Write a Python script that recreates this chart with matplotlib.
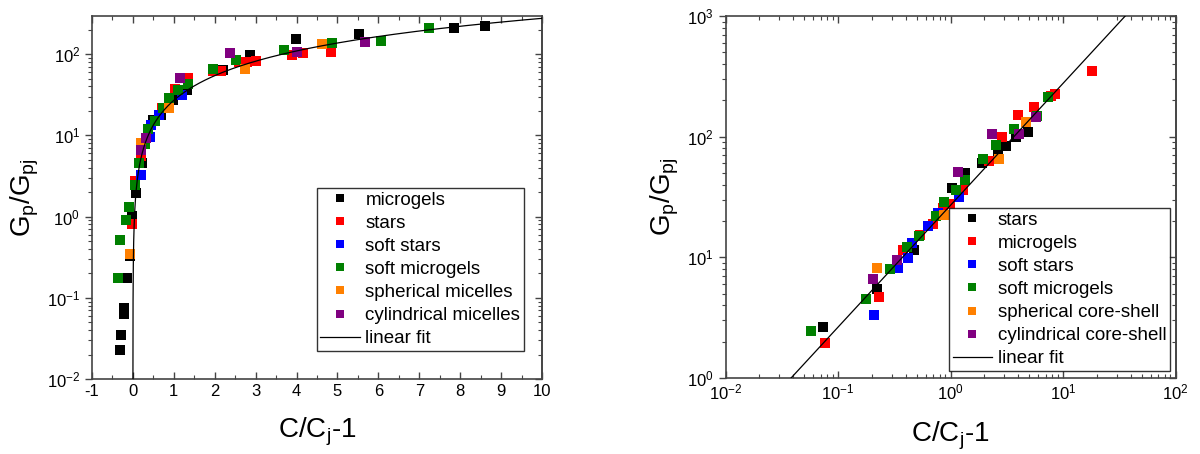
import matplotlib
matplotlib.use("Agg")
import matplotlib.pyplot as plt
from matplotlib.ticker import MultipleLocator, LogLocator
import numpy as np

plt.rcParams['font.family'] = ['Liberation Sans', 'DejaVu Sans']
plt.rcParams['mathtext.fontset'] = 'custom'
plt.rcParams['mathtext.rm'] = 'Liberation Sans'
plt.rcParams['mathtext.it'] = 'Liberation Sans'
plt.rcParams['axes.unicode_minus'] = False

colors = ['#000000', '#ff0000', '#0000ff', '#008000', '#ff8000', '#800080']

# left panel: linear x
left_labels = ['microgels', 'stars', 'soft stars', 'soft microgels',
               'spherical micelles', 'cylindrical micelles']
left_x = [
    [3.99, 2.85, 5.53, 7.85, 8.61, 2.2, 1.31, 0.99, 0.69, 0.50, 0.23, 0.08, -0.02,
     -0.07, -0.15, -0.21, -0.23, -0.28, -0.32],
    [2.6, 2.8, 3.0, 3.88, 4.15, 4.84, 1.95, 2.15, 1.34, 1.03, 0.70, 0.20, 0.04, -0.03],
    [1.21, 0.64, 0.44, 0.42, 0.20],
    [2.52, 3.70, 4.87, 6.06, 7.24, 1.95, 1.34, 1.11, 0.88, 0.74, 0.54, 0.38, 0.30,
     0.16, 0.04, -0.09, -0.18, -0.32, -0.36],
    [2.74, 4.61, 0.88, 0.19, -0.07],
    [2.37, 4.0, 5.67, 1.15, 0.32, 0.19],
]
left_y = [
    [153, 99, 177, 211, 224, 64, 36, 27.6, 18, 15.3, 4.6, 1.96, 1.03,
     0.33, 0.173, 0.074, 0.063, 0.035, 0.0225],
    [80, 81, 82, 97, 104, 107, 62, 62, 51, 37, 22, 5.55, 2.73, 0.81],
    [31, 18, 13.3, 9.5, 3.27],
    [84, 114, 136, 146, 211, 65, 42.6, 36, 29, 22, 14.9, 11.9, 7.9,
     4.6, 2.46, 1.30, 0.92, 0.51, 0.175],
    [65, 132, 22, 8.1, 0.35],
    [104, 107, 142, 51.5, 9.3, 6.65],
]

# right panel: log-log
right_labels = ['stars', 'microgels', 'soft stars', 'soft microgels',
                'spherical core-shell', 'cylindrical core-shell']
right_x = [
    [4.85, 3.8, 3.1, 2.66, 1.89, 1.35, 1.04, 0.47, 0.22, 0.074],
    [18.0, 8.5, 7.9, 5.5, 4.0, 2.85, 2.21, 1.30, 0.99, 0.853, 0.695, 0.536, 0.38, 0.23, 0.077],
    [1.2, 0.78, 0.636, 0.452, 0.415, 0.344, 0.21],
    [7.3, 5.9, 3.7, 2.52, 1.96, 1.35, 1.11, 0.875, 0.743, 0.53, 0.407, 0.29, 0.176, 0.058],
    [4.7, 2.72, 0.875, 0.22],
    [5.7, 4.04, 2.36, 1.17, 0.333, 0.203],
]
right_y = [
    [109, 100, 83, 76, 61, 50, 37.8, 11.5, 5.5, 2.67],
    [350, 226, 219, 177, 151, 99, 63, 36, 27.7, 25.5, 18.9, 15.3, 11.4, 4.7, 1.96],
    [31.5, 23.2, 18.2, 13.2, 9.8, 8.2, 3.3],
    [212, 149, 115, 85, 65, 44, 36, 29, 22.2, 15, 12.1, 8.0, 4.5, 2.45],
    [133, 65, 22.5, 8.1],
    [145, 105, 105, 51, 9.5, 6.6],
]

# fit G/Gj = A * (C/Cj - 1)^b
fit_A = 27.0
fit_b = 1.01

fig = plt.figure(figsize=(12, 4.54), dpi=100)
ax1 = fig.add_axes([92 / 1200, 1 - 379 / 454, 450 / 1200, 363 / 454])
ax2 = fig.add_axes([725.5 / 1200, 1 - 378 / 454, 450 / 1200, 362 / 454])

xfit_left = np.logspace(-3.6, 1.05, 400)
xfit_right = np.logspace(-2.2, 2.2, 100)

panels = [(ax1, left_labels, left_x, left_y, xfit_left, (0.96, 0.077)),
          (ax2, right_labels, right_x, right_y, xfit_right, (0.988, 0.019))]

for ax, labels, xs, ys, xfit, anchor in panels:
    for lab, xx, yy, c in zip(labels, xs, ys, colors):
        ax.plot(xx, yy, 's', color=c, markersize=7, markeredgewidth=0, label=lab, zorder=2)
    ax.plot(xfit, fit_A * xfit ** fit_b, '-', color='black', lw=0.9, label='linear fit', zorder=3)
    ax.set_yscale('log')
    for s in ax.spines.values():
        s.set_color('#444444')
        s.set_linewidth(1.2)
    ax.tick_params(axis='x', which='both', direction='in', top=True, labelsize=12,
                   colors='#444444', labelcolor='black')
    ax.tick_params(axis='y', which='both', direction='out', right=False, labelsize=12,
                   colors='#444444', labelcolor='black')
    ax.tick_params(which='major', length=5, width=1)
    ax.tick_params(which='minor', length=3, width=0.8)
    sec = ax.secondary_yaxis('right')
    sec.tick_params(which='both', direction='in', labelright=False, colors='#444444')
    sec.tick_params(which='major', length=5, width=1)
    sec.tick_params(which='minor', length=3, width=0.8)
    sec.yaxis.set_major_locator(LogLocator(base=10))
    sec.yaxis.set_minor_locator(LogLocator(base=10, subs=np.arange(2, 10)))
    sec.spines['right'].set_color('#444444')
    sec.spines['right'].set_linewidth(1.2)
    ax.yaxis.set_major_locator(LogLocator(base=10))
    ax.yaxis.set_minor_locator(LogLocator(base=10, subs=np.arange(2, 10)))
    ax.set_xlabel(r'C/C$_\mathregular{j}$-1', fontsize=20, labelpad=12)
    ax.set_ylabel(r'G$_\mathregular{p}$/G$_\mathregular{pj}$', fontsize=20)
    leg = ax.legend(loc='lower right', bbox_to_anchor=anchor, fontsize=13.5, frameon=True,
                    fancybox=False, edgecolor='black', borderpad=0.2, labelspacing=0.32,
                    handlelength=2.1, handletextpad=0.3, markerscale=0.8,
                    borderaxespad=0)
    leg.get_frame().set_linewidth(1.0)

ax1.set_xlim(-1, 10)
ax1.set_ylim(0.01, 295)
ax1.xaxis.set_major_locator(MultipleLocator(1))
ax1.xaxis.set_minor_locator(MultipleLocator(0.5))

ax2.set_xscale('log')
ax2.set_xlim(0.01, 100)
ax2.set_ylim(1, 1000)
ax2.xaxis.set_major_locator(LogLocator(base=10))
ax2.xaxis.set_minor_locator(LogLocator(base=10, subs=np.arange(2, 10)))

fig.savefig('out.png', dpi=100)
